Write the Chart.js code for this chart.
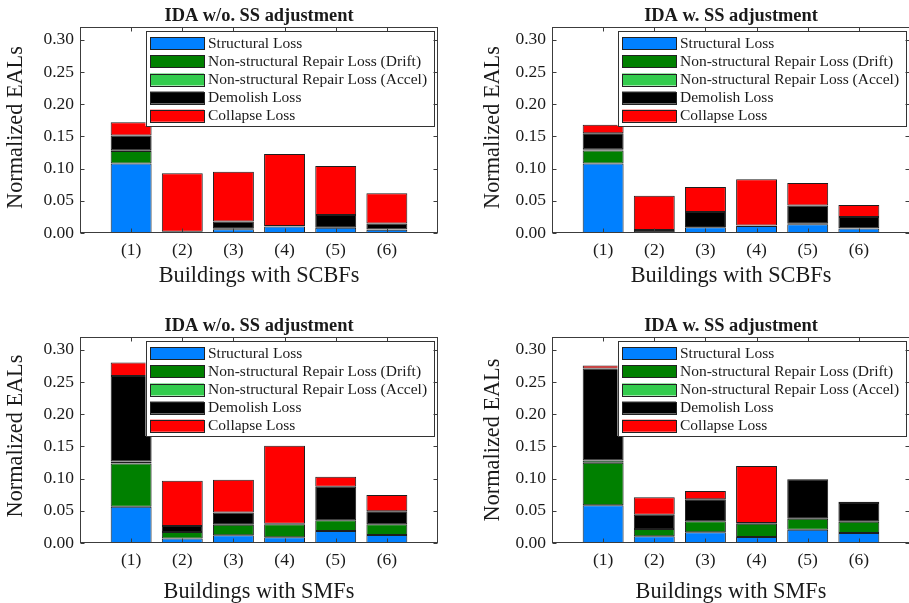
<!DOCTYPE html>
<html>
<head>
<meta charset="utf-8">
<script src="https://cdn.jsdelivr.net/npm/chart.js@4.4.0/dist/chart.umd.min.js"></script>
<style>
  html, body { margin: 0; padding: 0; background: #fff; overflow: hidden; width: 909px; height: 603px; }
  .panel { position: absolute; }
</style>
</head>
<body>
<div class="panel" style="left:0px;top:0px"><canvas id="c1" width="460" height="300"></canvas></div>
<div class="panel" style="left:460px;top:0px"><canvas id="c2" width="460" height="300"></canvas></div>
<div class="panel" style="left:0px;top:300px"><canvas id="c3" width="460" height="303"></canvas></div>
<div class="panel" style="left:460px;top:300px"><canvas id="c4" width="460" height="303"></canvas></div>
<script>
// Building labels, legend names and y ticks
const buildings = ['(1)', '(2)', '(3)', '(4)', '(5)', '(6)'];
const seriesNames = [
  'Structural Loss',
  'Non-structural Repair Loss (Drift)',
  'Non-structural Repair Loss (Accel)',
  'Demolish Loss',
  'Collapse Loss'
];
const yTicks = [0, 0.05, 0.10, 0.15, 0.20, 0.25, 0.30];

// SCBF buildings, IDA without SS adjustment
const scbfNoSS_structural = [0.108, 0.0005, 0.006, 0.010, 0.008, 0.005];
const scbfNoSS_drift      = [0.0195, 0.0005, 0.0005, 0.0003, 0.0003, 0.0003];
const scbfNoSS_accel      = [0.0012, 0, 0, 0, 0, 0];
const scbfNoSS_demolish   = [0.0228, 0.001, 0.0115, 0.0007, 0.0197, 0.0095];
const scbfNoSS_collapse   = [0.0205, 0.091, 0.077, 0.1116, 0.076, 0.047];

// SCBF buildings, IDA with SS adjustment
const scbfSS_structural = [0.108, 0.001, 0.009, 0.011, 0.0134, 0.007];
const scbfSS_drift      = [0.020, 0.0003, 0.0003, 0.0003, 0.001, 0.0003];
const scbfSS_accel      = [0.002, 0, 0, 0, 0, 0];
const scbfSS_demolish   = [0.025, 0.0032, 0.0235, 0.0005, 0.0285, 0.0175];
const scbfSS_collapse   = [0.013, 0.0535, 0.0388, 0.0718, 0.0347, 0.0187];

// SMF buildings, IDA without SS adjustment
const smfNoSS_structural = [0.0565, 0.007, 0.012, 0.009, 0.0187, 0.0124];
const smfNoSS_drift      = [0.067, 0.010, 0.0165, 0.020, 0.0165, 0.0166];
const smfNoSS_accel      = [0.003, 0, 0, 0, 0, 0];
const smfNoSS_demolish   = [0.133, 0.0093, 0.0187, 0.001, 0.052, 0.0202];
const smfNoSS_collapse   = [0.021, 0.0705, 0.0512, 0.121, 0.0156, 0.0254];

// SMF buildings, IDA with SS adjustment
const smfSS_structural = [0.0585, 0.0104, 0.0166, 0.0093, 0.0207, 0.0155];
const smfSS_drift      = [0.066, 0.0114, 0.0171, 0.0207, 0.0171, 0.0177];
const smfSS_accel      = [0.0036, 0, 0, 0, 0, 0];
const smfSS_demolish   = [0.143, 0.0222, 0.0342, 0.001, 0.0612, 0.029];
const smfSS_collapse   = [0.0047, 0.027, 0.0129, 0.0887, 0.0005, 0.002];

const seriesColors = ['#0080ff', '#008000', '#33cc4d', '#000000', '#ff0000'];
const SERIF = "'Liberation Serif', 'Times New Roman', serif";
const INK = '#1a1a1a';

Chart.defaults.font.family = SERIF;
Chart.defaults.color = INK;

// Box frame, inward tick marks, inset legend and the text around each axes
const panelDecor = {
  id: 'panelDecor',
  afterDraw(chart, args, o) {
    const { ctx, chartArea: a, scales: { x, y } } = chart;
    ctx.save();

    // legend box
    const lw = 288, lh = 95;
    const lx = a.right - 4.5 - lw, ly = a.top + 4;
    ctx.fillStyle = '#fff';
    ctx.fillRect(lx, ly, lw, lh);
    ctx.strokeStyle = '#333';
    ctx.lineWidth = 1;
    ctx.strokeRect(Math.round(lx) + 0.5, Math.round(ly) + 0.5, lw, lh);
    ctx.font = '15.5px ' + SERIF;
    ctx.textBaseline = 'middle';
    ctx.textAlign = 'left';
    chart.data.datasets.forEach((ds, i) => {
      const cy = ly + 12.3 + i * 18.1;
      ctx.fillStyle = ds.backgroundColor;
      ctx.fillRect(lx + 4.5, cy - 6, 54, 12);
      ctx.strokeStyle = '#222';
      ctx.strokeRect(Math.round(lx + 4.5) + 0.5, Math.round(cy - 6) + 0.5, 54, 12);
      ctx.fillStyle = INK;
      ctx.fillText(ds.label, lx + 62.5, cy + 0.5);
    });

    // axes frame
    ctx.strokeStyle = '#3c3c3c';
    ctx.lineWidth = 1;
    const L = Math.round(a.left) + 0.5, R = Math.round(a.right) - 0.5;
    const T = Math.round(a.top) + 0.5, B = Math.round(a.bottom) - 0.5;
    ctx.strokeRect(L, T, R - L, B - T);

    // inward ticks
    const tl = 4;
    ctx.beginPath();
    y.ticks.forEach(t => {
      const py = Math.round(y.getPixelForValue(t.value)) + 0.5;
      ctx.moveTo(L, py); ctx.lineTo(L + tl, py);
      ctx.moveTo(R, py); ctx.lineTo(R - tl, py);
    });
    x.ticks.forEach(t => {
      const px = Math.round(x.getPixelForValue(t.value)) + 0.5;
      ctx.moveTo(px, B); ctx.lineTo(px, B - tl);
      ctx.moveTo(px, T); ctx.lineTo(px, T + tl);
    });
    ctx.stroke();

    // titles
    const cx = (a.left + a.right) / 2;
    ctx.fillStyle = INK;
    ctx.textAlign = 'center';
    ctx.textBaseline = 'alphabetic';
    ctx.font = 'bold 18.4px ' + SERIF;
    ctx.fillText(o.title, cx, a.top - 6.2);
    ctx.font = '22.3px ' + SERIF;
    ctx.fillText(o.xTitle, cx, a.bottom + o.xTitleGap);
    ctx.save();
    ctx.translate(a.left - o.yTitleGap, (a.top + a.bottom) / 2 + o.yTitleShift);
    ctx.rotate(-Math.PI / 2);
    ctx.textBaseline = 'middle';
    ctx.fillText(o.yTitle, 0, 0);
    ctx.restore();

    ctx.restore();
  }
};

function makePanel(canvasId, series, frame, text) {
  const datasets = series.map((vals, i) => ({
    label: seriesNames[i],
    data: vals.map((v, k) => ({ x: k + 1, y: v })),
    backgroundColor: seriesColors[i],
    borderColor: '#1e1e1e',
    borderWidth: 1,
    borderSkipped: false,
    categoryPercentage: 0.8,
    barPercentage: 1.0
  }));
  return new Chart(document.getElementById(canvasId), {
    type: 'bar',
    data: { datasets },
    plugins: [panelDecor],
    options: {
      responsive: false,
      animation: false,
      devicePixelRatio: 1,
      layout: { padding: { left: 0, top: frame.top, right: frame.right, bottom: 0 } },
      plugins: {
        legend: { display: false },
        tooltip: { enabled: false },
        panelDecor: text
      },
      scales: {
        x: {
          type: 'linear',
          min: 0,
          max: 7,
          offset: false,
          stacked: true,
          grid: { display: false, drawTicks: false, offset: false },
          border: { display: false },
          afterBuildTicks: s => { s.ticks = buildings.map((b, i) => ({ value: i + 1 })); },
          afterFit: s => { s.height = frame.xH; },
          ticks: {
            autoSkip: false,
            maxRotation: 0,
            padding: 6.5,
            font: { size: 17.5, family: SERIF },
            color: INK,
            callback: v => buildings[v - 1] || ''
          }
        },
        y: {
          min: 0,
          max: 0.32,
          stacked: true,
          grid: { display: false, drawTicks: false },
          border: { display: false },
          afterBuildTicks: s => { s.ticks = yTicks.map(v => ({ value: v })); },
          afterFit: s => { s.width = frame.yW; },
          ticks: {
            padding: 6,
            font: { size: 17.5, family: SERIF },
            color: INK,
            callback: v => Number(v).toFixed(2)
          }
        }
      }
    }
  });
}

const topFrameL = { top: 27, right: 22, yW: 80, xH: 67 };
const topFrameR = { top: 27, right: 10, yW: 92, xH: 67 };
const botFrameL = { top: 37, right: 22, yW: 80, xH: 60 };
const botFrameR = { top: 37, right: 10, yW: 92, xH: 60 };

makePanel('c1',
  [scbfNoSS_structural, scbfNoSS_drift, scbfNoSS_accel, scbfNoSS_demolish, scbfNoSS_collapse],
  topFrameL,
  { title: 'IDA w/o. SS adjustment', xTitle: 'Buildings with SCBFs', yTitle: 'Normalized EALs',
    xTitleGap: 48.5, yTitleGap: 64, yTitleShift: -2.5 });

makePanel('c2',
  [scbfSS_structural, scbfSS_drift, scbfSS_accel, scbfSS_demolish, scbfSS_collapse],
  topFrameR,
  { title: 'IDA w. SS adjustment', xTitle: 'Buildings with SCBFs', yTitle: 'Normalized EALs',
    xTitleGap: 48.5, yTitleGap: 58.5, yTitleShift: -2.5 });

makePanel('c3',
  [smfNoSS_structural, smfNoSS_drift, smfNoSS_accel, smfNoSS_demolish, smfNoSS_collapse],
  botFrameL,
  { title: 'IDA w/o. SS adjustment', xTitle: 'Buildings with SMFs', yTitle: 'Normalized EALs',
    xTitleGap: 54.5, yTitleGap: 64, yTitleShift: -4 });

makePanel('c4',
  [smfSS_structural, smfSS_drift, smfSS_accel, smfSS_demolish, smfSS_collapse],
  botFrameR,
  { title: 'IDA w. SS adjustment', xTitle: 'Buildings with SMFs', yTitle: 'Normalized EALs',
    xTitleGap: 54.5, yTitleGap: 58.5, yTitleShift: 0 });
</script>
</body>
</html>
